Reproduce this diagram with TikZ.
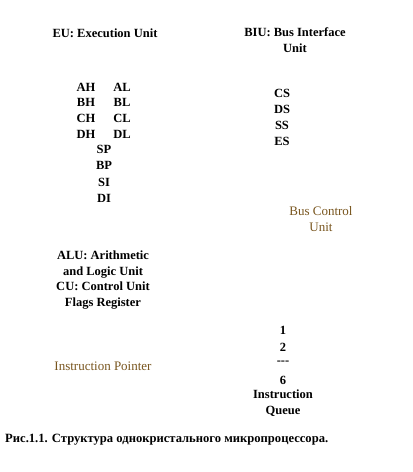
\documentclass[tikz,border=0pt]{standalone}
\usepackage{fontspec}
\setmainfont{Liberation Serif}
\definecolor{tan}{RGB}{120,85,30}
\begin{document}
\begin{tikzpicture}[x=1pt,y=-1pt,
  lbl/.style={font=\fontsize{12.5}{15.5}\selectfont\bfseries, inner sep=0pt, align=center},
  plain/.style={font=\fontsize{13}{15.5}\selectfont, text=tan, inner sep=0pt, align=center}]
\useasboundingbox (0,0) rectangle (413,472);
\node[lbl] (eu) at (105,33) {EU: Execution Unit};
\node[lbl] (biu) at (295,40) {BIU: Bus Interface\\Unit};
\node[lbl] (ah) at (86,87) {AH};
\node[lbl] (al) at (122,87) {AL};
\node[lbl] (bh) at (86,102) {BH};
\node[lbl] (bl) at (122,102) {BL};
\node[lbl] (ch) at (86,118) {CH};
\node[lbl] (cl) at (122,118) {CL};
\node[lbl] (dh) at (86,134) {DH};
\node[lbl] (dl) at (122,134) {DL};
\node[lbl] (sp) at (104,149) {SP};
\node[lbl] (bp) at (104,165) {BP};
\node[lbl] (si) at (104,182) {SI};
\node[lbl] (di) at (104,198) {DI};
\node[lbl] (cs) at (282,93) {CS};
\node[lbl] (ds) at (282,109) {DS};
\node[lbl] (ss) at (282,125) {SS};
\node[lbl] (es) at (282,141) {ES};
\node[plain] (bcu) at (321,219) {Bus Control\\Unit};
\node[lbl] (alu) at (103,280) {ALU: Arithmetic\\and Logic Unit\\CU: Control Unit\\Flags Register};
\node[plain] (ip) at (103,366) {Instruction Pointer};
\node[lbl] (q1) at (283,330) {1};
\node[lbl] (q2) at (283,347) {2};
\node[lbl] (qd) at (283,363) {{-}{-}{-}};
\node[lbl] (q6) at (283,380) {6};
\node[lbl] (iq) at (283,403) {Instruction\\Queue};
\node[font=\fontsize{12.6}{14}\selectfont\bfseries, inner sep=0pt, anchor=west] (cap) at (5,440) {Рис.1.1. Структура однокристального микропроцессора.};
\end{tikzpicture}
\end{document}
